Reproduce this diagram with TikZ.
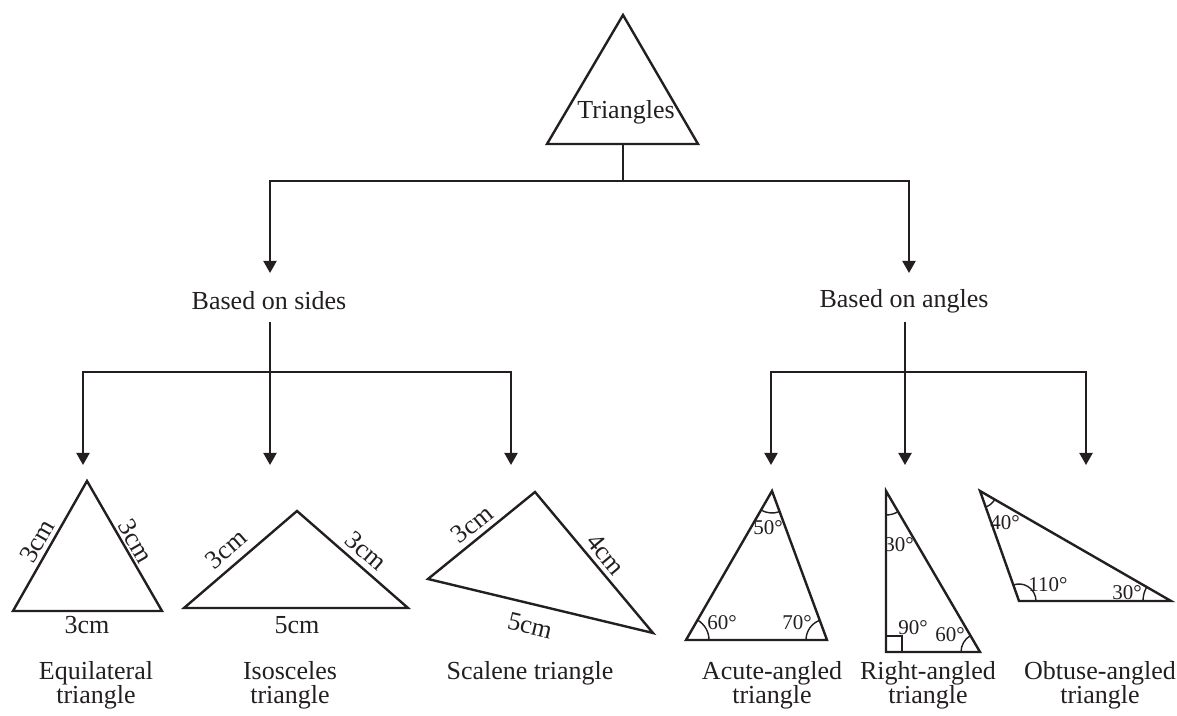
\documentclass[tikz,border=0pt]{standalone}
\usepackage{fontspec}
\setmainfont{Liberation Serif}
\usetikzlibrary{arrows.meta,angles}
\definecolor{ink}{HTML}{231F20}
\begin{document}
\begin{tikzpicture}[x=0.5pt,y=0.5pt,
  conn/.style={line width=1pt, draw=ink},
  arr/.style={conn,-{Triangle[width=6.5pt,length=6pt]}},
  tri/.style={line width=1.2pt, draw=ink, line join=miter},
  lbl/.style={font=\fontsize{13}{12}\selectfont, text=ink, inner sep=0pt},
  deg/.style={font=\fontsize{10.5}{10}\selectfont, text=ink, inner sep=0pt},
  tname/.style={lbl, align=center},
  angmark/.style={draw=ink, line width=0.7pt, angle radius=#1},
]
\useasboundingbox (0,0) rectangle (1177,716);

% top
\coordinate (tA) at (623,701);
\coordinate (tL) at (547,572);
\coordinate (tR) at (698,572);
\draw[tri] (tA) -- (tL) -- (tR) -- cycle;
\node[lbl] (title) at (626,604) {Triangles};
\coordinate (tS) at (623,572);
\coordinate (j) at (623,535);
\coordinate (sideTip) at (270,443);
\coordinate (angTip) at (909,443);
\draw[conn] (tS) -- (j);
\draw[arr] (j) -| (sideTip);
\draw[arr] (j) -| (angTip);

\node[lbl] (sides) at (269,415) {Based on sides};
\node[lbl] (angl) at (904,415) {Based on angles};

% left branch
\coordinate (s0) at (270,394);
\coordinate (sj) at (270,344);
\coordinate (e1) at (83,251);
\coordinate (e2) at (270,251);
\coordinate (e3) at (511,251);
\draw[arr] (s0) -- (e2);
\draw[arr] (sj) -| (e1);
\draw[arr] (sj) -| (e3);

% right branch
\coordinate (a0) at (905,394);
\coordinate (aj) at (905,344);
\coordinate (f1) at (771,251);
\coordinate (f2) at (905,251);
\coordinate (f3) at (1086,251);
\draw[arr] (a0) -- (f2);
\draw[arr] (aj) -| (f1);
\draw[arr] (aj) -| (f3);

% equilateral
\coordinate (eqA) at (87,235);
\coordinate (eqL) at (13,105);
\coordinate (eqR) at (162,105);
\draw[tri] (eqA) -- (eqL) -- (eqR) -- cycle;
\node[lbl, rotate=60] (eq1) at (37,175) {3cm};
\node[lbl, rotate=-60] (eq2) at (136,175) {3cm};
\node[lbl] (eq3) at (87,91) {3cm};
\node[tname] (eqN) at (96,31) {Equilateral\\triangle};

% isosceles
\coordinate (isA) at (297,205);
\coordinate (isL) at (184,108);
\coordinate (isR) at (408,108);
\draw[tri] (isA) -- (isL) -- (isR) -- cycle;
\node[lbl, rotate=41] (is1) at (226,167) {3cm};
\node[lbl, rotate=-41] (is2) at (366,165) {3cm};
\node[lbl] (is3) at (297,91) {5cm};
\node[tname] (isN) at (290,31) {Isosceles\\triangle};

% scalene
\coordinate (scA) at (535,224);
\coordinate (scL) at (428,137);
\coordinate (scR) at (653,83);
\draw[tri] (scA) -- (scL) -- (scR) -- cycle;
\node[lbl, rotate=39] (sc1) at (472,192) {3cm};
\node[lbl, rotate=-50] (sc2) at (606,162) {4cm};
\node[lbl, rotate=-13.5] (sc3) at (530,90) {5cm};
\node[lbl] (scN) at (530,43) {Scalene triangle};

% acute
\coordinate (acA) at (772,225);
\coordinate (acL) at (686,76);
\coordinate (acR) at (827,76);
\draw[tri] (acA) -- (acL) -- (acR) -- cycle;
\pic[angmark=11pt] {angle = acL--acA--acR};
\pic[angmark=11.5pt] {angle = acR--acL--acA};
\pic[angmark=10.5pt] {angle = acA--acR--acL};
\node[deg] (ac1) at (768,188) {50°};
\node[deg] (ac2) at (722,93) {60°};
\node[deg] (ac3) at (797,93) {70°};
\node[tname] (acN) at (772,31) {Acute-angled\\triangle};

% right
\coordinate (rtA) at (886,225);
\coordinate (rtL) at (886,64);
\coordinate (rtR) at (980,64);
\draw[tri] (rtA) -- (rtL) -- (rtR) -- cycle;
\pic[angmark=12pt] {angle = rtL--rtA--rtR};
\pic[angmark=9.5pt] {angle = rtA--rtR--rtL};
\draw[draw=ink, line width=0.7pt] (886,80) -| (902,64);
\node[deg] (rt1) at (899,171) {30°};
\node[deg] (rt2) at (913,88) {90°};
\node[deg] (rt3) at (950,81) {60°};
\node[tname] (rtN) at (928,31) {Right-angled\\triangle};

% obtuse
\coordinate (obA) at (980,225);
\coordinate (obL) at (1019,115);
\coordinate (obR) at (1171,115);
\draw[tri] (obA) -- (obL) -- (obR) -- cycle;
\pic[angmark=8.5pt] {angle = obL--obA--obR};
\pic[angmark=8.5pt] {angle = obR--obL--obA};
\pic[angmark=14pt] {angle = obA--obR--obL};
\node[deg] (ob1) at (1005,193) {40°};
\node[deg] (ob2) at (1048,131) {110°};
\node[deg] (ob3) at (1127,123) {30°};
\node[tname] (obN) at (1100,31) {Obtuse-angled\\triangle};
\end{tikzpicture}
\end{document}
